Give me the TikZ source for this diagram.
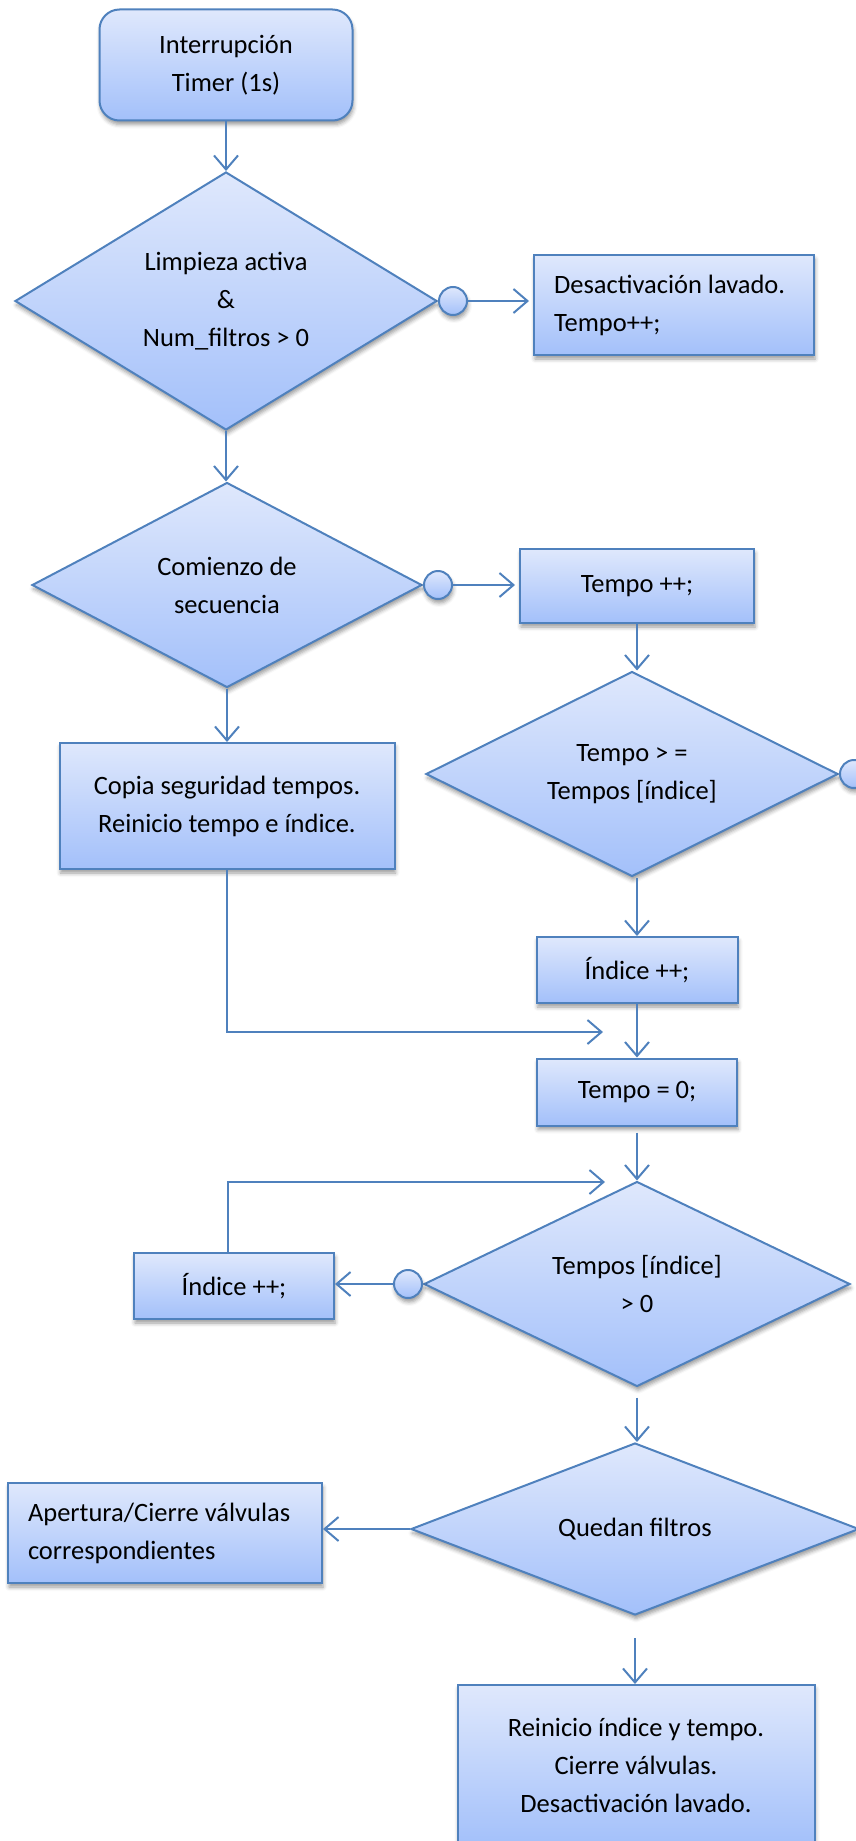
\documentclass[tikz,border=0pt]{standalone}
\usepackage{fontspec}
\setmainfont{Carlito}
\usetikzlibrary{shapes.geometric,arrows.meta,shadows.blur}

\definecolor{edgeblue}{RGB}{79,129,189}
\definecolor{filltop}{RGB}{223,232,252}
\definecolor{fillbot}{RGB}{163,192,250}

\tikzset{
  base/.style={draw=edgeblue, line width=2pt, top color=filltop, bottom color=fillbot,
    blur shadow={shadow xshift=1pt, shadow yshift=-4pt, shadow blur radius=4pt, shadow opacity=40},
    font=\fontsize{26.5}{38}\selectfont, text=black, inner sep=0pt},
  procbox/.style={base, rectangle, align=center},
  notebox/.style={base, rectangle, align=flush left, inner xsep=20pt},
  decision/.style={base, diamond, align=center},
  startbox/.style={base, rectangle, rounded corners=20pt, align=center},
  junction/.style={base, circle, minimum size=28pt},
  flow/.style={draw=edgeblue, line width=2pt, -{Straight Barb[length=14pt,width=24pt]}},
}

\begin{document}
\begin{tikzpicture}[x=1pt,y=-1pt]
\useasboundingbox (0,0) rectangle (856,1841);

% left column
\node[startbox, minimum width=253pt, minimum height=111pt] (start) at (226,65) {Interrupción\\Timer (1s)};
\node[decision, aspect=1.64, minimum width=422pt, minimum height=258pt] (d1) at (226,301) {Limpieza activa\\\&\\Num\_filtros > 0};
\node[junction, anchor=west] (c1) at (d1.east) {};
\node[notebox, text width=240pt, minimum height=100pt] (act1) at (674,305) {Desactivación lavado.\\Tempo++;};

\node[decision, aspect=1.9, minimum width=390pt, minimum height=205pt] (d2) at (227,585) {Comienzo de\\secuencia};
\node[junction, anchor=west] (c2) at (d2.east) {};
\node[procbox, minimum width=335pt, minimum height=126pt] (copy) at (227,806) {Copia seguridad tempos.\\Reinicio tempo e índice.};

% right column
\node[procbox, minimum width=234pt, minimum height=74pt] (inc1) at (637,586) {Tempo ++;};
\node[decision, aspect=2, minimum width=412pt, minimum height=205pt] (d3) at (632,774) {Tempo > =\\Tempos [índice]};
\node[junction, anchor=west] (c3) at (d3.east) {};
\node[procbox, minimum width=201pt, minimum height=66pt] (idx1) at (637,970) {Índice ++;};
\node[procbox, minimum width=200pt, minimum height=67pt] (t0) at (637,1092) {Tempo = 0;};

\node[decision, aspect=2.08, minimum width=426pt, minimum height=205pt] (d4) at (637,1284) {Tempos [índice]\\> 0};
\node[junction, anchor=east] (c4) at (d4.west) {};
\node[procbox, minimum width=200pt, minimum height=66pt] (idx2) at (234,1286) {Índice ++;};

\node[decision, aspect=2.6, minimum width=448pt, minimum height=172pt] (d5) at (635,1529) {Quedan filtros};
\node[notebox, text width=274pt, minimum height=100pt] (apert) at (165,1533) {Apertura/Cierre válvulas\\correspondientes};
\node[procbox, minimum width=357pt, minimum height=160pt] (final) at (636,1765) {Reinicio índice y tempo.\\Cierre válvulas.\\Desactivación lavado.};

% free ends of the merging lines
\coordinate (j1) at (603,1032);
\coordinate (j2) at (605,1182);

% connectors
\draw[flow] (start.south) -- (d1.north);
\draw[flow, shorten >=4pt] (c1.east) -- (c1.east -| act1.west);
\draw[flow] (d1.south) -- (d1.south |- d2.north);
\draw[flow, shorten >=4pt] (c2.east) -- (c2.east -| inc1.west);
\draw[flow] (d2.south) -- (copy.north);
\draw[flow] (inc1.south) -- (inc1.south |- d3.north);
\draw[flow] (copy.south) |- (j1);
\draw[flow] (idx1.north |- d3.south) -- (idx1.north);
\draw[flow] (idx1.south) -- (t0.north);
\draw[flow, shorten <=6pt] (t0.south) -- (d4.north);
\draw[flow] (c4.west) -- (c4.west -| idx2.east);
\draw[flow] ([xshift=-6pt]idx2.north) |- (j2);
\draw[flow, shorten <=10pt] (d4.south) -- (d4.south |- d5.north);
\draw[flow] (d5.west) -- (d5.west -| apert.east);
\draw[flow, shorten <=22pt] (d5.south) -- (d5.south |- final.north);
\end{tikzpicture}
\end{document}
